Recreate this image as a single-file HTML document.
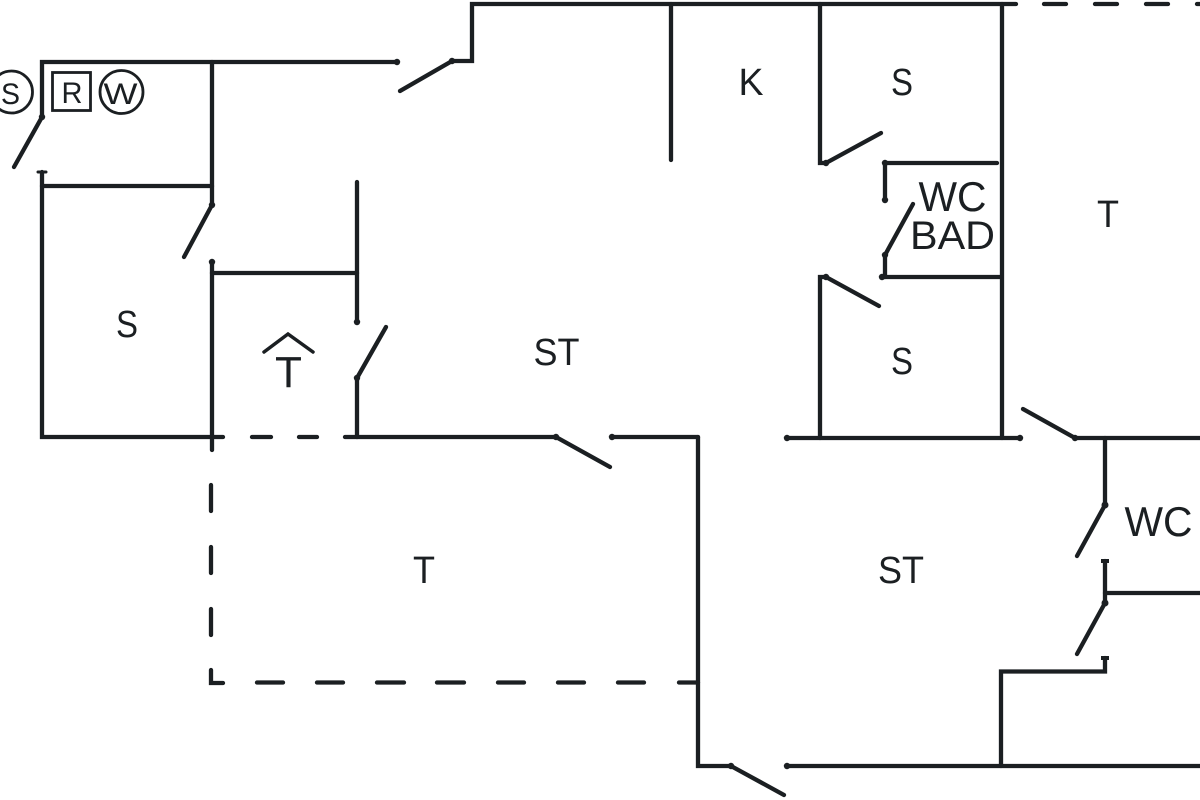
<!DOCTYPE html>
<html><head><meta charset="utf-8"><style>
html,body{margin:0;padding:0;background:#fff;width:1200px;height:800px;overflow:hidden}
svg{display:block}
text{font-family:"Liberation Sans",sans-serif;fill:#1b1f22;text-anchor:middle}
</style></head><body>
<svg width="1200" height="800" viewBox="0 0 1200 800">
<g stroke="#1b1f22" stroke-width="4.300" fill="none" stroke-linecap="round" stroke-linejoin="miter">
<!-- top-left walls -->
<path d="M42 117V62H397"/>
<path d="M42 117L14 167"/>
<path d="M38 172H46" stroke-width="3"/>
<path d="M42 172V437H212"/>
<path d="M42 186H212"/>
<path d="M212 62V205L184 257"/>
<path d="M212 262V450"/>
<path d="M400 91L452 61H472V4H1016"/>
<!-- top dashes -->
<path d="M1044 4H1066M1095 4H1117M1146 4H1168M1197 4H1202"/>
<path d="M671 4V160"/>
<path d="M820 4V163H826L881 133"/>
<path d="M1002 4V438"/>
<!-- WC BAD room -->
<path d="M885 200V163H997"/>
<path d="M913 204L885 255V277"/>
<path d="M882 277H1000"/>
<path d="M820 438V277H826L879 306"/>
<path d="M787 438H1020"/>
<path d="M1023 409L1075 438H1200"/>
<path d="M1105 438V505L1077 556"/>
<path d="M1105 561V603L1077 654"/>
<path d="M1105 593H1200"/>
<path d="M1105 658V671.500H1001V766"/>
<path d="M787 766H1200"/>
<path d="M698 437V766H731L784 795"/>
<path d="M612 437H698"/>
<path d="M357 437H556L610 467"/>
<path d="M357 437V378L386 327"/>
<path d="M357 322V182"/>
<path d="M357 273H212"/>
<!-- dashed house door line -->
<path d="M212 437H223M252 437H271M299 437H317M345 437H357"/>
<!-- dashed terrace -->
<path d="M211 485V511M211 547V573M211 609V635M211 670V683H223"/>
<path d="M257 682.500H283M317 682.500H343M377 682.500H404M437 682.500H464M498 682.500H524M558 682.500H584M618 682.500H644M679 682.500H698"/>
<!-- chevron -->
<path d="M264 352L288 334L313 352" stroke-width="3.500"/>
<!-- symbols -->
<circle cx="11.500" cy="92" r="21" stroke-width="2.800"/>
<rect x="52.500" y="72.500" width="38" height="38" stroke-width="2.800"/>
<circle cx="121.500" cy="92" r="21.500" stroke-width="2.800"/>
</g>
<!-- hinge dots and end caps -->
<g fill="#1b1f22">
<circle cx="42" cy="117" r="3.200"/>
<circle cx="212" cy="205" r="3.200"/>
<circle cx="212" cy="262" r="3.200"/>
<circle cx="397" cy="62" r="3.200"/>
<circle cx="452" cy="61" r="3.200"/>
<circle cx="357" cy="322" r="3.200"/>
<circle cx="357" cy="378" r="3.200"/>
<circle cx="556" cy="437" r="3.200"/>
<circle cx="612" cy="437" r="3.200"/>
<circle cx="826" cy="163" r="3.200"/>
<circle cx="826" cy="277" r="3.200"/>
<circle cx="885" cy="163" r="3.200"/>
<circle cx="885" cy="200" r="3.200"/>
<circle cx="885" cy="255" r="3.200"/>
<circle cx="882" cy="277" r="3.200"/>
<circle cx="787" cy="438" r="3.200"/>
<circle cx="1020" cy="438" r="3.200"/>
<circle cx="1075" cy="438" r="3.200"/>
<circle cx="1105" cy="505" r="3.500"/>
<circle cx="1105" cy="603" r="3.500"/>
<circle cx="731" cy="766" r="3.200"/>
<circle cx="787" cy="766" r="3.200"/>
<rect x="1101" y="559" width="8" height="4"/>
<rect x="1101" y="656" width="8" height="4"/>
</g>
<g font-size="38">
<text x="751" y="95" textLength="25" lengthAdjust="spacingAndGlyphs">K</text>
<text x="902" y="95" textLength="22" lengthAdjust="spacingAndGlyphs">S</text>
<text x="1108" y="227" textLength="22" lengthAdjust="spacingAndGlyphs">T</text>
<text x="902" y="374" textLength="22" lengthAdjust="spacingAndGlyphs">S</text>
<text x="127" y="337" textLength="22" lengthAdjust="spacingAndGlyphs">S</text>
<text x="556.500" y="365" textLength="46" lengthAdjust="spacingAndGlyphs">ST</text>
<text x="424" y="583" textLength="22" lengthAdjust="spacingAndGlyphs">T</text>
<text x="901" y="583" textLength="46" lengthAdjust="spacingAndGlyphs">ST</text>
</g>
<text x="952.500" y="249" font-size="40" textLength="85" lengthAdjust="spacingAndGlyphs">BAD</text>
<text x="952.500" y="211" font-size="42" textLength="68" lengthAdjust="spacingAndGlyphs">WC</text>
<text x="1158.500" y="536" font-size="42" textLength="68" lengthAdjust="spacingAndGlyphs">WC</text>
<text x="288.500" y="387" font-size="44" textLength="27" lengthAdjust="spacingAndGlyphs">T</text>
<g font-size="30">
<text x="10.500" y="104" textLength="19" lengthAdjust="spacingAndGlyphs">S</text>
<text x="72" y="103" textLength="21" lengthAdjust="spacingAndGlyphs">R</text>
<text x="120.500" y="104" textLength="34" lengthAdjust="spacingAndGlyphs">W</text>
</g>
</svg>
</body></html>
